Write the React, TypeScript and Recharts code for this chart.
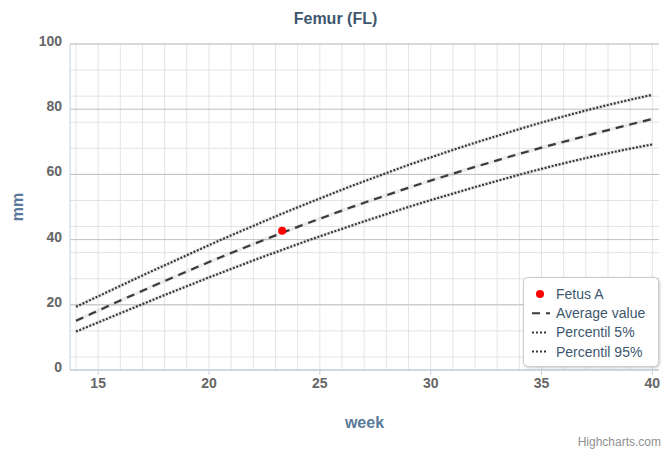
import React from 'react';
import { ComposedChart, Line, XAxis, YAxis, CartesianGrid, Legend } from 'recharts';

const weeks = [14, 15, 16, 17, 18, 19, 20, 21, 22, 23, 24, 25, 26, 27, 28, 29, 30, 31, 32, 33, 34, 35, 36, 37, 38, 39, 40];
const averageValue = [15.1, 18.2, 21.3, 24.3, 27.3, 30.2, 33.1, 35.9, 38.6, 41.3, 43.9, 46.4, 48.9, 51.3, 53.6, 55.9, 58.1, 60.2, 62.3, 64.3, 66.3, 68.2, 70.0, 71.8, 73.6, 75.3, 77.0];
const percentil5 = [11.8, 14.6, 17.4, 20.2, 23.0, 25.7, 28.4, 31.0, 33.6, 36.1, 38.6, 41.0, 43.3, 45.6, 47.8, 50.0, 52.1, 54.1, 56.1, 58.0, 59.9, 61.7, 63.4, 65.0, 66.5, 67.9, 69.2];
const percentil95 = [19.4, 22.6, 25.8, 29.0, 32.1, 35.2, 38.3, 41.3, 44.2, 47.1, 49.9, 52.6, 55.3, 57.9, 60.4, 62.9, 65.2, 67.5, 69.7, 71.8, 73.9, 75.9, 77.8, 79.6, 81.3, 82.9, 84.4];
const fetusWeeks = [23.3];
const fetusMm = [42.7];

const seriesNames = ['Fetus A', 'Average value', 'Percentil 5%', 'Percentil 95%'];
const xTicks = [15, 20, 25, 30, 35, 40];
const yTicks = [0, 20, 40, 60, 80, 100];
const yMinorGrid = [0, 4, 8, 12, 16, 20, 24, 28, 32, 36, 40, 44, 48, 52, 56, 60, 64, 68, 72, 76, 80, 84, 88, 92, 96, 100];
const xMinorGrid = weeks;

const rows = weeks.map((w, i) => ({ week: w, avg: averageValue[i], p5: percentil5[i], p95: percentil95[i] }));
const fetusRows = fetusWeeks.map((w, i) => ({ week: w, fetus: fetusMm[i] }));

const FONT = '"Liberation Sans", Arial, Helvetica, sans-serif';
const LINE_COLOR = '#3a3a3a';
const DOT_DASH = '2 1.6';
const AVG_DASH = '8 6';
const AXIS_TITLE_COLOR = '#5b7a99';

const XTick = (props: any) => {
  const { x, y, payload } = props;
  return (
    <text x={x} y={y} dy={10} textAnchor="middle" fill="#666666" fontSize={14} fontWeight="bold" fontFamily={FONT}>
      {payload.value}
    </text>
  );
};

const YTick = (props: any) => {
  const { x, y, payload } = props;
  return (
    <text x={x} y={y + 2} textAnchor="end" fill="#666666" fontSize={14} fontWeight="bold" fontFamily={FONT}>
      {payload.value}
    </text>
  );
};

const YTitle = (props: any) => {
  const vb = props.viewBox || { x: 0, y: 44, width: 70, height: 326 };
  const cx = vb.x + 17.5;
  const cy = vb.y + vb.height / 2;
  return (
    <text x={cx} y={cy} transform={`rotate(-90 ${cx} ${cy})`} textAnchor="middle" dominantBaseline="central"
      fill={AXIS_TITLE_COLOR} fontSize={16} fontWeight="bold" fontFamily={FONT}>
      mm
    </text>
  );
};

const XTitle = (props: any) => {
  const vb = props.viewBox || { x: 70, y: 370, width: 589, height: 81 };
  return (
    <text x={vb.x + vb.width / 2} y={vb.y + 58} textAnchor="middle"
      fill={AXIS_TITLE_COLOR} fontSize={16} fontWeight="bold" fontFamily={FONT}>
      week
    </text>
  );
};

const LegendBox = () => {
  const rowY = (i: number) => 17 + i * 19.2;
  return (
    <div style={{
      width: 136, height: 90, boxSizing: 'border-box', background: '#ffffff',
      border: '1px solid #cccccc', borderRadius: 5, boxShadow: '1px 1px 3px rgba(0,0,0,0.2)',
    }}>
      <svg width={134} height={88} style={{ display: 'block' }}>
        {seriesNames.map((name, i) => {
          const y = rowY(i) - 1;
          let symbol: React.ReactNode = null;
          if (i === 0) symbol = <circle cx={16} cy={y} r={4} fill="#ff0000" />;
          else if (i === 1) symbol = <line x1={8} x2={26} y1={y} y2={y} stroke={LINE_COLOR} strokeWidth={2} strokeDasharray={AVG_DASH} />;
          else symbol = <line x1={8} x2={24} y1={y} y2={y} stroke={LINE_COLOR} strokeWidth={2} strokeDasharray="2 2" />;
          return (
            <g key={name}>
              {symbol}
              <text x={32} y={y} dominantBaseline="central" fill="#3E576F" fontSize={14} fontFamily={FONT}>{name}</text>
            </g>
          );
        })}
      </svg>
    </div>
  );
};

export default function App() {
  return (
    <div style={{ position: 'absolute', left: 0, top: 0, width: 671, height: 451, background: '#ffffff' }}>
      <ComposedChart width={671} height={451} margin={{ top: 44, right: 12, left: 0, bottom: 0 }}>
        <CartesianGrid horizontalValues={yMinorGrid} verticalValues={xMinorGrid} stroke="#e4e4e4" strokeWidth={1} />
        <CartesianGrid horizontalValues={yTicks} vertical={false} stroke="#c0c0c0" strokeWidth={1} />
        <XAxis
          type="number"
          dataKey="week"
          domain={[13.73, 40.3]}
          ticks={xTicks}
          allowDataOverflow
          height={81}
          stroke="#C0D0E0"
          tickLine={{ stroke: '#C0D0E0' }}
          tickSize={5}
          tickMargin={3}
          tick={<XTick />}
          label={(p: any) => <XTitle {...p} />}
        />
        <YAxis
          type="number"
          domain={[0, 100]}
          ticks={yTicks}
          width={70}
          stroke="#C0D0E0"
          tickLine={false}
          tickSize={5}
          tickMargin={3}
          tick={<YTick />}
          label={(p: any) => <YTitle {...p} />}
        />
        <Legend
          layout="vertical"
          align="center"
          verticalAlign="middle"
          content={() => <LegendBox />}
          wrapperStyle={{ position: 'absolute', left: 523, top: 277, width: 136, height: 90 }}
        />
        <Line data={rows} dataKey="p95" type="monotone" stroke="rgba(0,0,0,0.07)" strokeWidth={4} dot={false} activeDot={false} legendType="none" isAnimationActive={false} />
        <Line data={rows} dataKey="avg" type="monotone" stroke="rgba(0,0,0,0.07)" strokeWidth={4} dot={false} activeDot={false} legendType="none" isAnimationActive={false} />
        <Line data={rows} dataKey="p5" type="monotone" stroke="rgba(0,0,0,0.07)" strokeWidth={4} dot={false} activeDot={false} legendType="none" isAnimationActive={false} />
        <Line data={rows} dataKey="p95" name={seriesNames[3]} type="monotone" stroke={LINE_COLOR} strokeWidth={2.2} strokeDasharray={DOT_DASH} dot={false} activeDot={false} isAnimationActive={false} />
        <Line data={rows} dataKey="avg" name={seriesNames[1]} type="monotone" stroke={LINE_COLOR} strokeWidth={2.2} strokeDasharray={AVG_DASH} dot={false} activeDot={false} isAnimationActive={false} />
        <Line data={rows} dataKey="p5" name={seriesNames[2]} type="monotone" stroke={LINE_COLOR} strokeWidth={2.2} strokeDasharray={DOT_DASH} dot={false} activeDot={false} isAnimationActive={false} />
        <Line data={fetusRows} dataKey="fetus" name={seriesNames[0]} stroke="none" dot={{ r: 4, fill: '#ff0000', stroke: 'none' }} activeDot={false} isAnimationActive={false} />
      </ComposedChart>
      <svg width={671} height={451} style={{ position: 'absolute', left: 0, top: 0, pointerEvents: 'none' }}>
        <text x={335.5} y={24} textAnchor="middle" fill="#3E576F" fontSize={16} fontWeight="bold" fontFamily={FONT}>Femur (FL)</text>
        <text x={661} y={446} textAnchor="end" fill="#909090" fontSize={12} fontFamily={FONT}>Highcharts.com</text>
      </svg>
    </div>
  );
}
